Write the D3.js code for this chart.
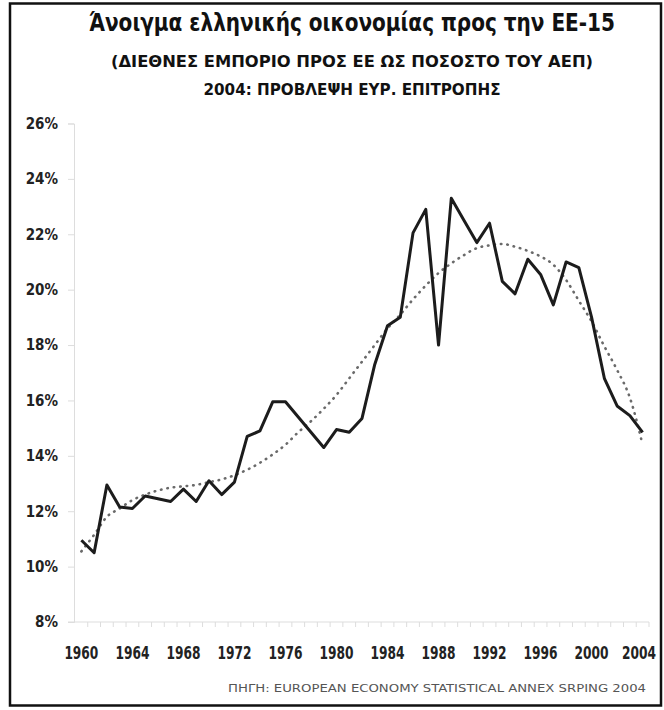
<!DOCTYPE html>
<html>
<head>
<meta charset="utf-8">
<script src="https://cdn.jsdelivr.net/npm/d3@7"></script>
<style>
  body { margin: 0; background: #fff; }
  svg { display: block; }
  .narrow { font-family: "Liberation Sans Narrow", "Arial Narrow", "DejaVu Sans Condensed", sans-serif; }
</style>
</head>
<body>
<div id="chart"></div>
<script>
//DATA
var years = [1960, 1961, 1962, 1963, 1964, 1965, 1966, 1967, 1968, 1969,
    1970, 1971, 1972, 1973, 1974, 1975, 1976, 1977, 1978, 1979,
    1980, 1981, 1982, 1983, 1984, 1985, 1986, 1987, 1988, 1989,
    1990, 1991, 1992, 1993, 1994, 1995, 1996, 1997, 1998, 1999,
    2000, 2001, 2002, 2003, 2004];

// trade with EU-15 as % of GDP
var openness = [10.95, 10.5, 12.95, 12.15, 12.1, 12.55, 12.45, 12.35, 12.8, 12.35,
    13.1, 12.6, 13.05, 14.7, 14.9, 15.95, 15.95, 15.4, 14.85, 14.3,
    14.95, 14.85, 15.35, 17.3, 18.7, 19.0, 22.05, 22.9, 18.0, 23.3,
    22.5, 21.7, 22.4, 20.3, 19.85, 21.1, 20.55, 19.45, 21.0, 20.8,
    19.0, 16.8, 15.8, 15.45, 14.85];

// dotted trend line
var trend = [10.55, 11.15, 11.8, 12.1, 12.4, 12.6, 12.75, 12.85, 12.9, 12.95,
    13.05, 13.15, 13.3, 13.5, 13.75, 14.05, 14.4, 14.85, 15.25, 15.7,
    16.2, 16.8, 17.4, 18.0, 18.6, 19.1, 19.65, 20.15, 20.6, 20.95,
    21.25, 21.5, 21.6, 21.65, 21.55, 21.4, 21.2, 20.9, 20.35, 19.6,
    18.85, 17.95, 17.1, 16.1, 14.4];

var yTicks = [8, 10, 12, 14, 16, 18, 20, 22, 24, 26];
var xLabels = [1960, 1964, 1968, 1972, 1976, 1980, 1984, 1988, 1992, 1996, 2000, 2004];

var title = "Άνοιγμα ελληνικής οικονομίας προς την ΕΕ-15";
var subtitle1 = "(ΔΙΕΘΝΕΣ ΕΜΠΟΡΙΟ ΠΡΟΣ ΕΕ ΩΣ ΠΟΣΟΣΤΟ ΤΟΥ ΑΕΠ)";
var subtitle2 = "2004: ΠΡΟΒΛΕΨΗ ΕΥΡ. ΕΠΙΤΡΟΠΗΣ";
var source = "ΠΗΓΗ: EUROPEAN ECONOMY STATISTICAL ANNEX SRPING 2004";

/*---------------------------------------SETUP--------------------------------------*/
var W = 664, H = 710;
var plot = { left: 75, right: 649, top: 123.5, bottom: 622 };

var svg = d3.select("#chart").append("svg")
    .attr("width", W)
    .attr("height", H);

// outer frame
svg.append("rect")
    .attr("x", 10).attr("y", 3.5)
    .attr("width", 651).attr("height", 702)
    .attr("fill", "#fff")
    .attr("stroke", "#111")
    .attr("stroke-width", 2.5);

var x = d3.scaleBand()
    .domain(years)
    .range([plot.left, plot.right]);

var y = d3.scaleLinear()
    .domain([8, 26])
    .range([plot.bottom, plot.top]);

function cx(yr) {
    return x(yr) + x.bandwidth() / 2;
}

/*---------------------------------------TITLES--------------------------------------*/
function addText(txt, xc, yb, size, len, weight, color) {
    svg.append("text")
        .attr("class", "narrow")
        .attr("x", xc)
        .attr("y", yb)
        .attr("text-anchor", "middle")
        .attr("font-size", size)
        .attr("font-weight", weight)
        .attr("fill", color)
        .attr("textLength", len)
        .attr("lengthAdjust", "spacingAndGlyphs")
        .text(txt);
}

addText(title, 352, 31, 24, 526, "bold", "#111");
addText(subtitle1, 352, 67, 16, 482, "bold", "#111");
addText(subtitle2, 352, 95, 16, 297, "bold", "#111");
addText(source, 437, 692, 11, 418, "normal", "#555");

/*---------------------------------------AXES--------------------------------------*/
// y axis: light grey line, short ticks on the left
var yAxis = svg.append("g")
    .attr("transform", "translate(" + (plot.left - 1) + ",0)")
    .call(d3.axisLeft(y).tickValues(yTicks).tickSize(6).tickFormat(function(d) { return d + "%"; }));

yAxis.select(".domain").attr("stroke", "#ddd");
yAxis.selectAll(".tick line").attr("stroke", "#ddd");
yAxis.selectAll(".tick text")
    .attr("class", "narrow")
    .attr("x", -16)
    .attr("font-size", 15)
    .attr("font-weight", "bold")
    .attr("fill", "#222");

// x axis: ticks at category boundaries
var xAxis = svg.append("g")
    .attr("transform", "translate(0," + plot.bottom + ")");

xAxis.append("line")
    .attr("x1", plot.left - 7).attr("x2", plot.right)
    .attr("y1", 0).attr("y2", 0)
    .attr("stroke", "#ddd");

xAxis.selectAll(".yt")
    .data(years)
    .enter()
    .append("line")
    .attr("class", "yt")
    .attr("x1", function(d) { return x(d) + x.bandwidth(); })
    .attr("x2", function(d) { return x(d) + x.bandwidth(); })
    .attr("y1", 0).attr("y2", 5)
    .attr("stroke", "#ddd");

// last label would run into the frame, so keep it just inside
xAxis.selectAll(".yl")
    .data(xLabels)
    .enter()
    .append("text")
    .attr("class", "narrow")
    .attr("x", function(d) { return Math.min(cx(d) + 17, 656); })
    .attr("y", 37)
    .attr("text-anchor", "end")
    .attr("font-size", 17)
    .attr("font-weight", "bold")
    .attr("fill", "#222")
    .attr("textLength", 34)
    .attr("lengthAdjust", "spacingAndGlyphs")
    .text(function(d) { return d; });

/*---------------------------------------LINES--------------------------------------*/
var trendLine = d3.line()
    .x(function(d, i) { return cx(years[i]); })
    .y(function(d) { return y(d); })
    .curve(d3.curveMonotoneX);

svg.append("path")
    .datum(trend)
    .attr("d", trendLine)
    .attr("fill", "none")
    .attr("stroke", "#6a6a6a")
    .attr("stroke-width", 2.6)
    .attr("stroke-linecap", "round")
    .attr("stroke-dasharray", "0.5,6");

var mainLine = d3.line()
    .x(function(d, i) { return cx(years[i]); })
    .y(function(d) { return y(d); });

svg.append("path")
    .datum(openness)
    .attr("d", mainLine)
    .attr("fill", "none")
    .attr("stroke", "#1c1c1c")
    .attr("stroke-width", 3)
    .attr("stroke-linejoin", "round");
</script>
</body>
</html>
